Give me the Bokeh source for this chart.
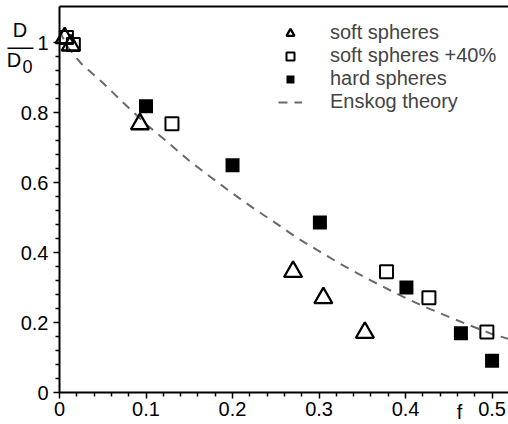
from bokeh.plotting import figure
from bokeh.models import (Range1d, FixedTicker, LinearAxis, Legend, LegendItem,
                          Label, Arrow)
from bokeh.embed import file_html
from bokeh.resources import INLINE

# ---- data ----
soft_f = [0.006, 0.013, 0.093, 0.270, 0.305, 0.353]
soft_d = [1.013, 0.992, 0.767, 0.345, 0.270, 0.171]

soft40_f = [0.008, 0.016, 0.130, 0.378, 0.427, 0.494]
soft40_d = [1.014, 0.994, 0.768, 0.345, 0.271, 0.173]

hard_f = [0.100, 0.200, 0.301, 0.401, 0.464, 0.500]
hard_d = [0.818, 0.649, 0.486, 0.300, 0.169, 0.091]

theory_f = [0.0, 0.01, 0.025, 0.05, 0.075, 0.1, 0.125, 0.15, 0.175, 0.2, 0.225,
            0.25, 0.275, 0.3, 0.325, 0.35, 0.375, 0.4, 0.425, 0.45, 0.475, 0.5, 0.519]
theory_d = [1.032, 0.985, 0.94, 0.885, 0.825, 0.767, 0.715, 0.662, 0.615, 0.569, 0.525,
            0.484, 0.441, 0.404, 0.367, 0.333, 0.301, 0.270, 0.242, 0.216, 0.191, 0.167, 0.153]

x_ticks = [0, 0.1, 0.2, 0.3, 0.4, 0.5]
x_tick_labels = ["0", "0.1", "0.2", "0.3", "0.4", "0.5"]
x_minor = [0.02, 0.04, 0.06, 0.08, 0.12, 0.14, 0.16, 0.18, 0.22, 0.24, 0.26, 0.28,
           0.32, 0.34, 0.36, 0.38, 0.42, 0.44, 0.46, 0.48]
y_ticks = [0, 0.2, 0.4, 0.6, 0.8, 1]
y_tick_labels = ["0", "0.2", "0.4", "0.6", "0.8", "1"]
y_minor = [0.04, 0.08, 0.12, 0.16, 0.24, 0.28, 0.32, 0.36, 0.44, 0.48, 0.52, 0.56,
           0.64, 0.68, 0.72, 0.76, 0.84, 0.88, 0.92, 0.96]

legend_labels = ["soft spheres", "soft spheres +40%", "hard spheres", "Enskog theory"]

x_label = "f"
y_label_num = "D"
y_label_den = "D"
y_label_sub = "0"

FONT = "Liberation Sans"
X_MAX = 0.519     # right end of the axes box
Y_MAX = 1.103     # top end of the axes box

# the frame covers the whole canvas; the axes sit at x=0 / y=0 inside it
p = figure(width=508, height=424, output_backend="svg", toolbar_location=None,
           x_range=Range1d(-0.0682, X_MAX), y_range=Range1d(-0.0914, 1.12),
           min_border_left=0, min_border_right=0, min_border_top=0, min_border_bottom=0,
           x_axis_type=None, y_axis_type=None)
p.title.visible = False
p.outline_line_color = None
p.xgrid.visible = False
p.ygrid.visible = False
p.background_fill_color = "white"


def style_axis(ax):
    ax.axis_line_width = 2
    ax.axis_line_color = "black"
    ax.major_tick_line_width = 1.5
    ax.minor_tick_line_width = 1.5
    ax.major_tick_in = 0
    ax.major_tick_out = 6
    ax.minor_tick_in = 0
    ax.minor_tick_out = 4
    ax.major_label_text_font = FONT
    ax.major_label_text_font_size = "20px"
    ax.major_label_text_color = "black"


xaxis = LinearAxis(ticker=FixedTicker(ticks=x_ticks, minor_ticks=x_minor),
                   major_label_overrides=dict(zip(x_ticks, x_tick_labels)),
                   fixed_location=0, bounds=(0, X_MAX))
style_axis(xaxis)
xaxis.major_label_standoff = 3
p.add_layout(xaxis, "below")

yaxis = LinearAxis(ticker=FixedTicker(ticks=y_ticks, minor_ticks=y_minor),
                   major_label_overrides=dict(zip(y_ticks, y_tick_labels)),
                   fixed_location=0, bounds=(0, Y_MAX))
style_axis(yaxis)
yaxis.major_label_standoff = 5
p.add_layout(yaxis, "left")

# top border of the box, drawn as a plain line through the plot's scales
p.line([0, X_MAX], [Y_MAX, Y_MAX], line_color="black", line_width=2)

r_line = p.line(theory_f, theory_d, line_color="#6a6a6a", line_width=2, line_dash="9 7")
r_soft = p.scatter(soft_f, soft_d, marker="triangle", size=18, fill_color=None,
                   line_color="black", line_width=2.3)
r_soft40 = p.scatter(soft40_f, soft40_d, marker="square", size=13, fill_color=None,
                     line_color="black", line_width=2)
r_hard = p.scatter(hard_f, hard_d, marker="square", size=14, fill_color="black",
                   line_color="black", line_width=0)

legend = Legend(items=[LegendItem(label=legend_labels[0], renderers=[r_soft]),
                       LegendItem(label=legend_labels[1], renderers=[r_soft40]),
                       LegendItem(label=legend_labels[2], renderers=[r_hard]),
                       LegendItem(label=legend_labels[3], renderers=[r_line])],
                location=(278, 311))
legend.padding = 0
legend.margin = 0
legend.border_line_color = None
legend.background_fill_alpha = 0
legend.label_text_font = FONT
legend.label_text_font_size = "20px"
legend.glyph_width = 24
legend.glyph_height = 20
legend.label_height = 20
legend.spacing = 0
legend.label_standoff = 28
p.add_layout(legend)


def add_text(x, y, text, size="20px"):
    p.add_layout(Label(x=x, y=y, text=text, text_font=FONT, text_font_size=size,
                       text_color="black", text_align="center", text_baseline="middle"))


# y label D / D0 as a fraction, and x label f
add_text(-0.0457, 1.0343, y_label_num)
add_text(-0.0526, 0.9486, y_label_den)
add_text(-0.037, 0.932, y_label_sub, size="18px")
p.add_layout(Arrow(end=None, x_start=-0.0601, y_start=0.9837, x_end=-0.0301, y_end=0.9837,
                   line_width=1.5, line_color="black"))
add_text(0.4624, -0.0571, x_label)

open("out.html", "w").write(file_html(p, INLINE))
